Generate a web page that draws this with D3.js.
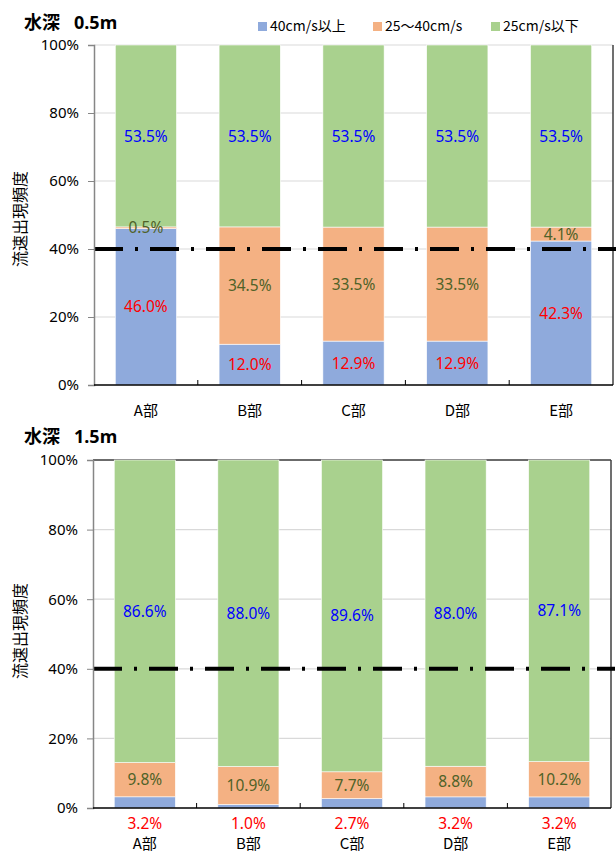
<!DOCTYPE html>
<html><head><meta charset="utf-8">
<script src="https://cdn.jsdelivr.net/npm/d3@7"></script>
<style>
html,body{margin:0;padding:0;background:#fff;}
svg{display:block;font-family:"Noto Sans CJK JP","Noto Sans",sans-serif;}
</style></head>
<body><svg id="c" width="616" height="852"></svg>
<script>
const categories = ["A部","B部","C部","D部","E部"];
const seriesNames = ["40cm/s以上","25～40cm/s","25cm/s以下"];
const seriesKeys = ["fast","mid","slow"];
const depth05Fast = [46.0,12.0,12.9,12.9,42.3];
const depth05Mid  = [0.5,34.5,33.5,33.5,4.1];
const depth05Slow = [53.5,53.5,53.5,53.5,53.5];
const depth15Fast = [3.2,1.0,2.7,3.2,3.2];
const depth15Mid  = [9.8,10.9,7.7,8.8,10.2];
const depth15Slow = [86.6,88.0,89.6,88.0,87.1];
const yTicks = [0,20,40,60,80,100];
const threshold = 40;
const titleMain = "水深";
const titleDepths = ["0.5m","1.5m"];
const yTitle = "流速出現頻度";

const colors = ["#8faadc","#f4b183","#a9d18e"];
const labelColors = ["#ff0000","#4f6228","#0000ff"];
const latin = '"Noto Sans","Noto Sans CJK JP",sans-serif';

const svg = d3.select("#c");

function rows(f,m,s){ return categories.map((c,i)=>({cat:c,fast:f[i],mid:m[i],slow:s[i]})); }

const panels = [
  {data:rows(depth05Fast,depth05Mid,depth05Slow), depth:titleDepths[0], box:{l:94,r:613,t:45,b:385}, titleY:29, catY:416, fastOutside:false, topBorder:false, yTitleY:219},
  {data:rows(depth15Fast,depth15Mid,depth15Slow), depth:titleDepths[1], box:{l:93,r:611,t:460,b:808}, titleY:443, catY:849, fastOutside:true, topBorder:true, yTitleY:631}
];

panels.forEach(p=>{
  const b = p.box;
  const x = d3.scaleBand().domain(categories).range([b.l,b.r]).paddingInner(0.41).paddingOuter(0.205);
  const y = d3.scaleLinear().domain([0,100]).range([b.b,b.t]);
  const stack = d3.stack().keys(seriesKeys).offset(d3.stackOffsetExpand);
  const st = stack(p.data);
  const g = svg.append("g");

  // gridlines
  g.selectAll(".grid").data(yTicks.filter(t=>t>0)).join("line")
    .attr("x1",b.l).attr("x2",b.r).attr("y1",d=>y(d)).attr("y2",d=>y(d))
    .attr("stroke","#d9d9d9").attr("stroke-width",1.2);
  if(p.topBorder){
    g.append("line").attr("x1",b.l).attr("x2",b.r).attr("y1",b.t).attr("y2",b.t).attr("stroke","#404040").attr("stroke-width",1.5);
  }
  g.append("line").attr("x1",b.r).attr("x2",b.r).attr("y1",b.t).attr("y2",b.b).attr("stroke","#404040").attr("stroke-width",1.5);

  // bars
  st.forEach((s,si)=>{
    g.selectAll(".bar"+si).data(s).join("rect")
      .attr("x",d=>x(d.data.cat)).attr("width",x.bandwidth())
      .attr("y",d=>y(d[1]*100)).attr("height",d=>y(d[0]*100)-y(d[1]*100))
      .attr("fill",colors[si]).attr("stroke","#fff").attr("stroke-width",0.6);
  });

  // threshold dash-dot
  g.append("line").attr("x1",b.l).attr("x2",b.r+4).attr("y1",y(threshold)).attr("y2",y(threshold))
    .attr("stroke","#000").attr("stroke-width",4).attr("stroke-dasharray","29,12,3,12");

  // axes
  const yAxis = d3.axisLeft(y).tickValues(yTicks).tickFormat(d=>d+"%").tickSize(6).tickPadding(9);
  const ya = g.append("g").attr("transform",`translate(${b.l},0)`).call(yAxis);
  ya.select(".domain").attr("stroke","#868686").attr("stroke-width",1.5);
  ya.selectAll(".tick line").attr("stroke","#868686");
  ya.selectAll("text").attr("font-size",15).attr("fill","#000").attr("font-family",latin);

  const xa = g.append("g").attr("transform",`translate(0,${b.b})`);
  xa.append("line").attr("x1",b.l).attr("x2",b.r).attr("y1",0).attr("y2",0).attr("stroke","#000").attr("stroke-width",1.5);
  const bounds = categories.slice(1).map(c=>x(c)-x.step()*x.paddingInner()/2);
  xa.selectAll(".xt").data(bounds).join("line").attr("x1",d=>d).attr("x2",d=>d).attr("y1",0).attr("y2",-5).attr("stroke","#000");
  g.selectAll(".cat").data(categories).join("text")
    .attr("x",d=>x(d)+x.bandwidth()/2).attr("y",p.catY).attr("text-anchor","middle")
    .attr("font-size",15).attr("fill","#000").text(d=>d);

  // labels
  st.forEach((s,si)=>{
    g.selectAll(".lab"+si).data(s).join("text")
      .attr("x",d=>x(d.data.cat)+x.bandwidth()/2)
      .attr("y",d=> (si===0 && p.fastOutside) ? b.b+15 : y((d[0]+d[1])/2*100))
      .attr("dy","0.36em").attr("text-anchor","middle")
      .attr("font-size",15.5).attr("fill",labelColors[si])
      .attr("font-family",latin)
      .text(d=>d.data[seriesKeys[si]].toFixed(1)+"%");
  });

  // titles
  const t = g.append("text").attr("x",24).attr("y",p.titleY).attr("font-weight","bold");
  t.append("tspan").attr("font-size",18).text(titleMain);
  t.append("tspan").attr("dx",14).attr("font-size",18).attr("font-family",latin).text(p.depth);
  g.append("text").attr("transform",`translate(20,${p.yTitleY}) rotate(-90)`).attr("text-anchor","middle")
    .attr("dy","0.35em").attr("font-size",16).text(yTitle);
});

// legend
const legX = [258,373,491];
const leg = svg.append("g");
seriesNames.forEach((n,i)=>{
  leg.append("rect").attr("x",legX[i]).attr("y",22).attr("width",9).attr("height",9).attr("fill",colors[i]);
  leg.append("text").attr("x",legX[i]+12).attr("y",31).attr("font-size",14).text(n);
});
</script></body></html>
